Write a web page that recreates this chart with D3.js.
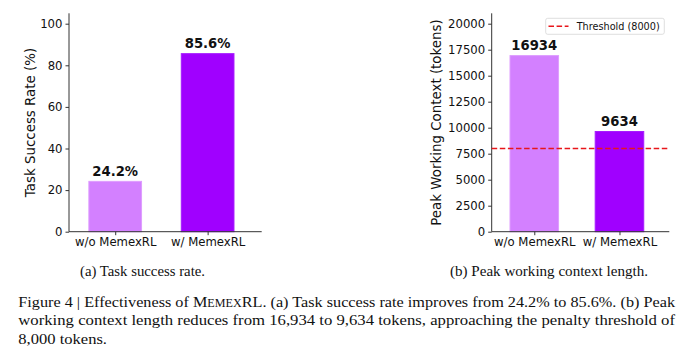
<!DOCTYPE html>
<html>
<head>
<meta charset="utf-8">
<script src="https://cdn.jsdelivr.net/npm/d3@7"></script>
<style>
  html, body { margin: 0; padding: 0; background: #fff; }
  svg { display: block; }
</style>
</head>
<body>
<svg id="chart" width="700" height="358"></svg>
<script>
// ---- data ----
const categories = ["w/o MemexRL", "w/ MemexRL"];
const successRate = [24.2, 85.6];
const successLabels = ["24.2%", "85.6%"];
const successTicks = [0, 20, 40, 60, 80, 100];
const peakContext = [16934, 9634];
const peakLabels = ["16934", "9634"];
const peakTicks = [0, 2500, 5000, 7500, 10000, 12500, 15000, 17500, 20000];
const threshold = 8000;
const thresholdLabel = "Threshold (8000)";
const barColors = ["#d380ff", "#a000ff"];
const barEdge = ["#de9cff", "#a61cff"];

const svg = d3.select("#chart");
const sans = "DejaVu Sans, sans-serif";
const serif = "Liberation Serif, DejaVu Serif, serif";

function panel(opts) {
  const g = svg.append("g");
  const x = d3.scaleLinear().domain([-0.5, 1.585]).range([opts.x0, opts.x1]);
  const y = d3.scaleLinear().domain([0, opts.ymax]).range([231.7, 13.3]);
  const bw = x(0.57) - x(0);

  // bars
  g.selectAll("rect.bar").data(opts.values).enter().append("rect")
    .attr("x", (d, i) => x(i) - bw / 2)
    .attr("y", d => y(d))
    .attr("width", bw)
    .attr("height", d => y(0) - y(d))
    .attr("fill", (d, i) => barColors[i])
    .attr("stroke", (d, i) => barEdge[i])
    .attr("stroke-width", 1);

  // value labels
  g.selectAll("text.val").data(opts.values).enter().append("text")
    .attr("x", (d, i) => x(i))
    .attr("y", d => y(d) - 5.2)
    .attr("text-anchor", "middle")
    .attr("font-family", sans)
    .attr("font-weight", "bold")
    .attr("font-size", 13.2)
    .attr("fill", "#111")
    .text((d, i) => opts.labels[i]);

  // y axis
  const yAxis = d3.axisLeft(y).tickValues(opts.ticks).tickSize(3.5).tickPadding(3).tickFormat(d3.format("d"));
  const ya = g.append("g").attr("transform", `translate(${opts.x0},0)`).call(yAxis);
  ya.select(".domain").attr("stroke", "#333").attr("d", `M0,${y(0)}V13.3`);
  ya.selectAll(".tick line").attr("stroke", "#333");
  ya.selectAll(".tick text").attr("font-family", sans).attr("font-size", 11.7).attr("fill", "#111");

  // x axis
  const xAxis = d3.axisBottom(x).tickValues([0, 1]).tickSize(3.5).tickPadding(3)
    .tickFormat(i => categories[i]);
  const xa = g.append("g").attr("transform", `translate(0,${y(0)})`).call(xAxis);
  xa.select(".domain").attr("stroke", "#333").attr("d", `M${opts.x0},0H${opts.x1}`);
  xa.selectAll(".tick line").attr("stroke", "#333");
  xa.selectAll(".tick text").attr("font-family", sans).attr("font-size", 11.7).attr("fill", "#111");

  // y label
  g.append("text")
    .attr("transform", `translate(${opts.labelX},${(y(0) + 13.3) / 2}) rotate(-90)`)
    .attr("text-anchor", "middle")
    .attr("dy", "0.35em")
    .attr("font-family", sans)
    .attr("font-size", 13.4)
    .attr("fill", "#111")
    .text(opts.ylabel);

  return { g, x, y };
}

panel({ x0: 69, x1: 261.7, ymax: 105, values: successRate, labels: successLabels,
        ticks: successTicks, labelX: 30, ylabel: "Task Success Rate (%)" });

const p2 = panel({ x0: 491.7, x1: 669.3, ymax: 21000, values: peakContext, labels: peakLabels,
        ticks: peakTicks, labelX: 436.7, ylabel: "Peak Working Context (tokens)" });

// threshold line
p2.g.append("line")
  .attr("x1", p2.x.range()[0]).attr("x2", p2.x.range()[1])
  .attr("y1", p2.y(threshold)).attr("y2", p2.y(threshold))
  .attr("stroke", "#e8161b").attr("stroke-width", 1.4)
  .attr("stroke-dasharray", "5.5,2.6");

// legend
const lg = p2.g.append("g");
lg.append("rect").attr("x", 545.7).attr("y", 18.3).attr("width", 118.6).attr("height", 16)
  .attr("rx", 2).attr("fill", "#fff").attr("fill-opacity", 0.8)
  .attr("stroke", "#d6d6d6").attr("stroke-width", 0.8);
lg.append("line").attr("x1", 548.5).attr("x2", 568.5).attr("y1", 26.3).attr("y2", 26.3)
  .attr("stroke", "#e8161b").attr("stroke-width", 1.4).attr("stroke-dasharray", "5.5,2.6");
lg.append("text").attr("x", 576.7).attr("y", 29.8)
  .attr("font-family", sans).attr("font-size", 9.7).attr("fill", "#111")
  .text(thresholdLabel);

// sub-captions
svg.append("text").attr("x", 80).attr("y", 276).attr("font-family", serif)
  .attr("font-size", 14).attr("fill", "#111")
  .attr("textLength", 125).attr("lengthAdjust", "spacingAndGlyphs")
  .text("(a) Task success rate.");
svg.append("text").attr("x", 450).attr("y", 276).attr("font-family", serif)
  .attr("font-size", 14).attr("fill", "#111")
  .attr("textLength", 198).attr("lengthAdjust", "spacingAndGlyphs")
  .text("(b) Peak working context length.");

// figure caption
function smallCaps(t, parts) {
  parts.forEach(p => {
    t.append("tspan").attr("font-size", p.sc ? 11.5 : null).text(p.s);
  });
}
const c1 = svg.append("text").attr("x", 18.3).attr("y", 306.7).attr("font-family", serif)
  .attr("font-size", 15.4).attr("fill", "#111")
  .attr("textLength", 656.7).attr("lengthAdjust", "spacingAndGlyphs");
smallCaps(c1, [
  { s: "Figure 4 | Effectiveness of M" },
  { s: "EMEX", sc: true },
  { s: "RL. (a) Task success rate improves from 24.2% to 85.6%. (b) Peak" }
]);
svg.append("text").attr("x", 18.3).attr("y", 325.2).attr("font-family", serif)
  .attr("font-size", 15.4).attr("fill", "#111")
  .attr("textLength", 656.7).attr("lengthAdjust", "spacingAndGlyphs")
  .text("working context length reduces from 16,934 to 9,634 tokens, approaching the penalty threshold of");
svg.append("text").attr("x", 18.3).attr("y", 343.6).attr("font-family", serif)
  .attr("font-size", 15.4).attr("fill", "#111")
  .attr("textLength", 88.7).attr("lengthAdjust", "spacingAndGlyphs")
  .text("8,000 tokens.");
</script>
</body>
</html>
